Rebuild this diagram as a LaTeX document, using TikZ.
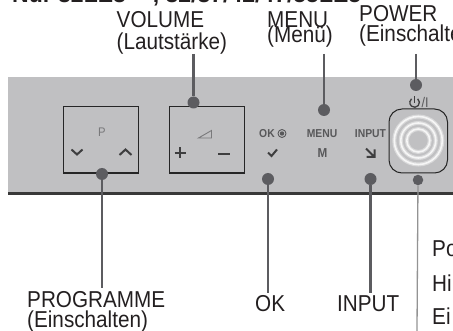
\documentclass[tikz,border=0pt]{standalone}
\usepackage{fontspec}
\setmainfont[FakeStretch=0.9]{Liberation Sans}
\newfontfamily\headfont{Liberation Sans}
\usetikzlibrary{positioning}

\definecolor{panelgray}{RGB}{192,192,194}
\definecolor{leadgray}{RGB}{92,92,96}
\definecolor{printgray}{RGB}{88,88,90}
\definecolor{textblack}{RGB}{35,31,32}

\begin{document}
\begin{tikzpicture}[
    x=1pt,
    y=-1pt,
    caption/.style={
        anchor=base west,
        inner sep=0pt,
        text=textblack,
        font=\fontsize{23}{23}\selectfont
    },
    headline/.style={
        anchor=base west,
        inner sep=0pt,
        text=textblack,
        font=\headfont\fontsize{23}{23}\selectfont\bfseries
    },
    printed/.style={
        inner sep=0pt,
        text=printgray,
        font=\fontsize{11.5}{11.5}\selectfont\bfseries
    },
    knob/.style={
        circle,
        fill=leadgray,
        inner sep=0pt,
        minimum size=12pt
    },
    smallknob/.style={
        knob,
        minimum size=10.5pt
    },
    keybox/.style={
        rectangle,
        draw=black!85,
        line width=1.1pt,
        inner sep=0pt
    },
    line/.style={
        draw,
        line width=2.2pt,
        color=leadgray
    },
    thinline/.style={
        draw,
        line width=1.3pt,
        color=gray!85
    },
    glyph/.style={
        draw=printgray!70!black,
        line width=2pt
    },
    ring/.style={
        draw=white!85!panelgray,
        line width=1.6pt
    },
    ringglow/.style={
        draw=white!40!panelgray,
        line width=4pt
    }
]
\useasboundingbox (0,0) rectangle (453,331);
\clip (0,0) rectangle (453,331);

% Panel
\fill [panelgray] (8,77) rectangle (453,193);
\fill [black!78] (8,192) rectangle (453,195);

% Keys
\node [keybox, minimum width=75pt, minimum height=66.5pt] (progbox) at (101,139.8) {};
\node [keybox, minimum width=75pt, minimum height=66.5pt] (volbox) at (206.7,139.8) {};
\draw [black!85, line width=1pt, rounded corners=13pt] (389,109) rectangle (447.5,173);

% Power button rings
\foreach \r in {24,17.5,11.5} {
    \draw [ringglow] (418.3,140.5) circle (\r);
    \draw [ring] (418.3,140.5) circle (\r);
}

% Printed marks
\node [printed, text=printgray!80, font=\fontsize{12.5}{12.5}\selectfont] (pmark) at (102,132.5) {P};
\draw [glyph] (71.5,149.5) -- (77,154.5) -- (82.5,149.5);
\draw [glyph] (119.5,155) -- (125.5,149.5) -- (131.5,155);
\draw [glyph] (174.5,153) -- (186,153) (180.2,147.5) -- (180.2,158.5);
\draw [glyph] (218,154) -- (230,154);
\draw [draw=printgray!80, line width=0.9pt] (198.5,138) -- (211.5,138) -- (211.5,130.5) -- cycle;

\node [printed] (okmark) at (267,133.5) {OK};
\draw [printgray, line width=0.9pt] (282,133.5) circle (4);
\fill [printgray] (282,133.5) circle (2.2);
\draw [glyph] (268,152.5) -- (271.5,156) -- (277,149.5);

\node [printed] (menumark) at (322,133.5) {MENU};
\node [printed, font=\fontsize{13}{13}\selectfont\bfseries] (mmark) at (322.5,153) {M};

\node [printed] (inputmark) at (370.5,133.5) {INPUT};
\draw [glyph] (366,148.5) -- (374,156.5) (374.5,149.5) -- (374.5,157) -- (366.5,157);

\draw [glyph, line width=1.3pt] (417.7,98.8) arc [start angle=-50, end angle=230, radius=4.8];
\draw [glyph, line width=1.3pt] (414.6,96.5) -- (414.6,103);
\node [printed, font=\fontsize{14}{14}\selectfont, anchor=base west] (slashmark) at (421.5,107.5) {/I};

% Captions
\node [headline] (modelline) at (12,3) {Nur 32LE3***, 32/37/42/47/55LE5};

\node [caption] (volume) at (116.5,28) {VOLUME};
\node [caption] (volumede) at (116.5,49.5) {(Lautstärke)};
\node [caption] (menu) at (267,28) {MENU};
\node [caption] (menude) at (267,42.5) {(Menü)};
\node [caption] (power) at (359,22) {POWER};
\node [caption] (powerde) at (359,42) {(Einschalte};
\node [caption] (programme) at (27,307.5) {PROGRAMME};
\node [caption] (programmede) at (27,327.5) {(Einschalten)};
\node [caption] (ok) at (255,312) {OK};
\node [caption] (input) at (337,312) {INPUT};
\node [caption] (po) at (432,257) {Po};
\node [caption] (hi) at (432,291.5) {Hi};
\node [caption] (ei) at (432,325) {Ei};

% Knobs
\node [knob] (volknob) at (193.5,102.5) {};
\node [knob] (menuknob) at (324,110) {};
\node [knob] (powerknob) at (416,85) {};
\node [knob] (progknob) at (102,174) {};
\node [knob] (okknob) at (268,179) {};
\node [knob] (inputknob) at (370.5,179) {};
\node [smallknob] (buttonknob) at (418,180) {};

% Free ends
\coordinate (volend) at (193.5,54);
\coordinate (menuend) at (324,54);
\coordinate (powerend) at (416,54);
\coordinate (progend) at (102,288);
\coordinate (okend) at (268,293);
\coordinate (inputend) at (370.5,293);
\coordinate (buttonend) at (417,331);

% Connections
\path [line] (volend) -- (volknob);
\path [line] (menuend) -- (menuknob);
\path [line] (powerend) -- (powerknob);
\path [line] (progknob) -- (progend);
\path [line] (okknob) -- (okend);
\path [line] (inputknob) -- (inputend);
\path [thinline] (buttonknob) -- (buttonend);

\end{tikzpicture}
\end{document}
